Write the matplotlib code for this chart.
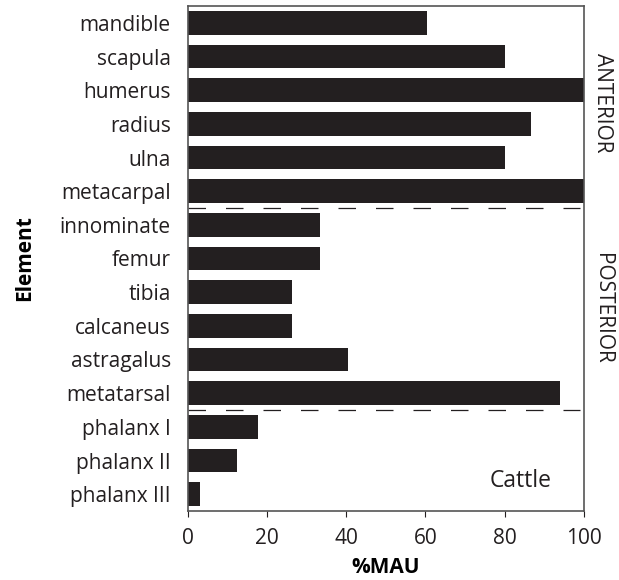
import matplotlib
matplotlib.use("Agg")
import matplotlib.pyplot as plt

plt.rcParams['font.family'] = ['Open Sans', 'DejaVu Sans']

elements = ["mandible", "scapula", "humerus", "radius", "ulna", "metacarpal",
            "innominate", "femur", "tibia", "calcaneus", "astragalus", "metatarsal",
            "phalanx I", "phalanx II", "phalanx III"]
mau = [60.4, 80, 100, 86.7, 80, 100,
       33.3, 33.3, 26.3, 26.3, 40.5, 94,
       17.7, 12.6, 3.2]
region_labels = ["ANTERIOR", "POSTERIOR"]

fig = plt.figure(figsize=(6.19, 5.8), dpi=100)
ax = fig.add_axes([187.5 / 619, 1 - 511 / 580, 396.5 / 619, 505 / 580])

ypos = list(range(len(elements)))
ax.barh(ypos, mau, height=0.71, color="#231f20")
ax.set_ylim(len(elements) - 0.5, -0.5)
ax.set_xlim(0, 100)

ax.set_yticks(ypos)
ax.set_yticklabels(elements, fontsize=15, color="#231f20")
ax.set_xticks([0, 20, 40, 60, 80, 100])
ax.tick_params(axis="x", labelsize=15, colors="#231f20", length=4, direction="out", pad=8)
ax.tick_params(axis="y", length=0, pad=12)

# dashed separators between anterior / posterior / phalanges
for y in [5.5, 11.5]:
    ax.axhline(y, xmin=0, xmax=0.99, color="#231f20", lw=0.9, ls=(0, (14, 16)))

for s in ax.spines.values():
    s.set_color("#555555")
    s.set_linewidth(1.2)

ax.set_xlabel("%MAU", fontsize=15, fontweight="bold", labelpad=6)
ax.set_ylabel("Element", fontsize=15, fontweight="bold")
ax.yaxis.set_label_coords(-0.385, 0.5)

ax.text(1.02, 0.9, region_labels[0], transform=ax.get_yaxis_transform(),
        rotation=-90, va="top", ha="left", fontsize=15, color="#231f20")
ax.text(1.02, 6.84, region_labels[1], transform=ax.get_yaxis_transform(),
        rotation=-90, va="top", ha="left", fontsize=15, color="#231f20")
ax.text(0.841, 0.059, "Cattle", transform=ax.transAxes, ha="center", va="center",
        fontsize=16.5, color="#231f20")

fig.savefig("out.png", dpi=100)
